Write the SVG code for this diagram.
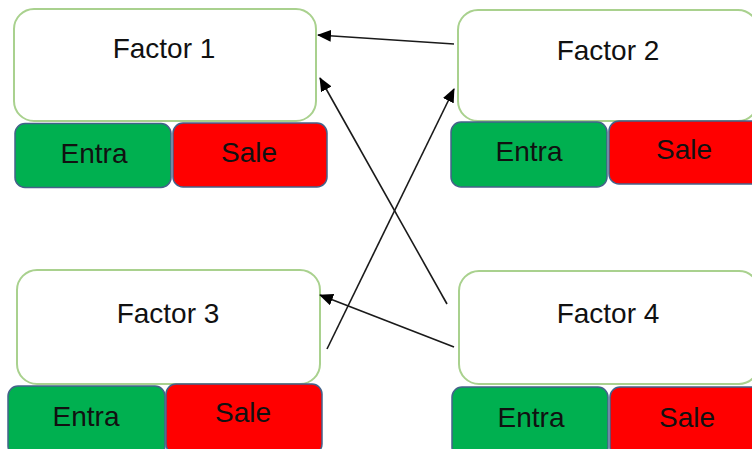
<svg xmlns="http://www.w3.org/2000/svg" width="752" height="449" viewBox="0 0 752 449">
<style>
.factor{fill:#fff;stroke:#A9D18E;stroke-width:2}
.entra{fill:#00B050;stroke:#44628A;stroke-width:1.5}
.sale{fill:#FF0000;stroke:#44628A;stroke-width:1.5}
text{font-family:"Liberation Sans",Arial,sans-serif;font-size:28px;fill:#111;text-anchor:middle}
.conn{stroke:#1a1a1a;stroke-width:1.6;fill:none;marker-end:url(#ah)}
</style>
<defs>
<marker id="ah" markerWidth="14" markerHeight="12" refX="13" refY="6" orient="auto" markerUnits="userSpaceOnUse">
<path d="M0,0 L14,6 L0,12 Z" fill="#000"/>
</marker>
</defs>
<rect width="752" height="449" fill="#fff"/>
<g id="factor1">
<rect class="factor" x="14" y="9" width="302" height="112" rx="20"/>
<text x="164" y="58">Factor 1</text>
<rect class="entra" x="15" y="123.5" width="156" height="64" rx="10"/>
<text x="94" y="163">Entra</text>
<rect class="sale" x="173" y="123" width="154" height="64" rx="10"/>
<text x="249" y="162">Sale</text>
</g>
<g id="factor2">
<rect class="factor" x="458" y="10" width="300" height="111" rx="20"/>
<text x="608" y="60">Factor 2</text>
<rect class="entra" x="451" y="122" width="156" height="65" rx="10"/>
<text x="529" y="161">Entra</text>
<rect class="sale" x="609" y="121" width="156" height="63" rx="10"/>
<text x="684" y="159">Sale</text>
</g>
<g id="factor3">
<rect class="factor" x="17" y="270" width="303" height="114" rx="20"/>
<text x="168" y="323">Factor 3</text>
<rect class="entra" x="8" y="386" width="157" height="70" rx="10"/>
<text x="86" y="426">Entra</text>
<rect class="sale" x="166" y="384" width="156" height="70" rx="10"/>
<text x="243" y="422">Sale</text>
</g>
<g id="factor4">
<rect class="factor" x="459" y="271" width="300" height="113" rx="20"/>
<text x="608" y="323">Factor 4</text>
<rect class="entra" x="452" y="387" width="156" height="70" rx="10"/>
<text x="531" y="427">Entra</text>
<rect class="sale" x="610" y="387" width="156" height="70" rx="10"/>
<text x="687" y="427">Sale</text>
</g>
<g id="connectors">
<line class="conn" x1="454" y1="44" x2="318" y2="35"/>
<line class="conn" x1="447" y1="304" x2="320" y2="78"/>
<line class="conn" x1="327" y1="349" x2="454" y2="89"/>
<line class="conn" x1="454" y1="347" x2="320" y2="295"/>
</g>
</svg>
